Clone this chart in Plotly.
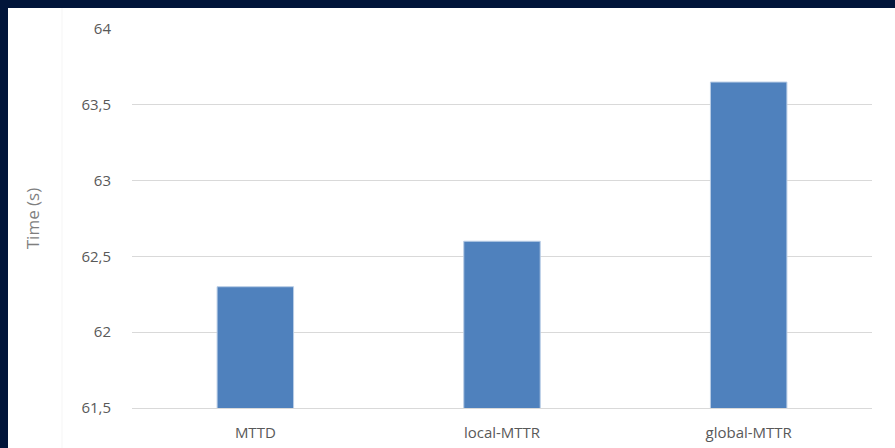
import plotly.graph_objects as go

# Mean recovery / detection times
categories = ["MTTD", "local-MTTR", "global-MTTR"]
times = [62.3, 62.6, 63.65]

y_tick_vals = [61.5, 62, 62.5, 63, 63.5, 64]
y_tick_text = ["61,5", "62", "62,5", "63", "63,5", "64"]

W, H = 895, 448
M_L, M_R, M_T, M_B = 132, 23, 29, 40
plot_w = W - M_L - M_R
plot_h = H - M_T - M_B
FRAME = "#01153a"
BORDER = 8


def px_x(p):
    return (p - M_L) / plot_w


def px_y(p):
    return (H - M_B - p) / plot_h


fig = go.Figure(
    go.Bar(
        x=categories,
        y=times,
        width=0.31,
        marker=dict(color="#4f81bd", line=dict(color="#b9cde6", width=1)),
    )
)

fig.update_layout(
    width=W,
    height=H,
    margin=dict(l=M_L, r=M_R, t=M_T, b=M_B, autoexpand=False),
    paper_bgcolor="white",
    plot_bgcolor="rgba(0,0,0,0)",
    showlegend=False,
    separators=",.",
    font=dict(family="Open Sans, sans-serif", color="#595959", size=15),
    shapes=[
        # dark frame along the top edge
        dict(
            type="rect", xref="paper", yref="paper", layer="below",
            x0=px_x(0), x1=px_x(W), y0=px_y(BORDER), y1=px_y(0),
            fillcolor=FRAME, line=dict(width=0),
        ),
        # dark frame along the left edge
        dict(
            type="rect", xref="paper", yref="paper", layer="below",
            x0=px_x(0), x1=px_x(BORDER), y0=px_y(H), y1=px_y(0),
            fillcolor=FRAME, line=dict(width=0),
        ),
        # faint inner divider
        dict(
            type="line", xref="paper", yref="paper", layer="below",
            x0=px_x(62), x1=px_x(62), y0=px_y(H), y1=px_y(BORDER),
            line=dict(color="#f5f5f5", width=1),
        ),
    ],
)

fig.update_xaxes(
    automargin=False,
    showgrid=False,
    showline=True,
    linecolor="#d9d9d9",
    linewidth=1,
    ticks="",
    ticklabelstandoff=11,
    tickfont=dict(size=15, color="#595959"),
)

fig.update_yaxes(
    automargin=False,
    range=[61.5, 64],
    tickvals=y_tick_vals,
    ticktext=y_tick_text,
    showgrid=True,
    gridcolor="#d9d9d9",
    gridwidth=1,
    zeroline=False,
    showline=False,
    ticks="",
    ticklabelstandoff=20,
    tickfont=dict(size=15, color="#595959"),
    title=dict(text="Time (s)", font=dict(size=17, color="#7f7f7f"), standoff=37),
)

fig.write_html("out.html")
